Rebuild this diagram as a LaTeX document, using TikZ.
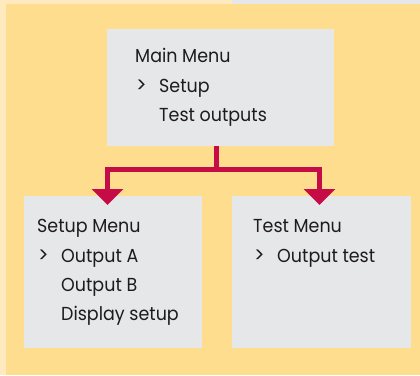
\documentclass[tikz,border=0pt]{standalone}
\usepackage{fontspec}
\setmainfont{Poppins}[FakeStretch=0.93]
\usetikzlibrary{arrows.meta}
\definecolor{bgpale}{HTML}{FFEAC0}
\definecolor{bgmain}{HTML}{FEDD8F}
\definecolor{bggray}{HTML}{E6E7E9}
\definecolor{boxgray}{HTML}{E6E7E9}
\definecolor{crim}{HTML}{C60C46}
\definecolor{ink}{HTML}{1E1B1C}
\tikzset{
  menubox/.style={fill=boxgray, draw=none, inner sep=0pt},
  txt/.style={anchor=base west, inner sep=0pt, text=ink, font=\fontsize{18.8}{21}\selectfont},
  conn/.style={draw=crim, line width=5pt, line join=miter},
}
\begin{document}
\begin{tikzpicture}[x=1pt,y=-1pt]
\useasboundingbox (0,0) rectangle (420,375);
\fill[bgpale] (0,0) rectangle (420,375);
\fill[bggray] (232,0) rectangle (420,4);
\fill[bgmain] (6,4) rectangle (420,375);
% boxes
\node[menubox, minimum width=227pt, minimum height=117pt] (main) at (220.5,87.5) {};
\node[menubox, minimum width=178pt, minimum height=152pt] (setup) at (113,272) {};
\node[menubox, minimum width=179pt, minimum height=152pt] (test) at (321.5,272) {};
% texts
\node[txt] (m1) at (135,62) {Main Menu};
\node[txt] (m2a) at (136,92) {\fontsize{21}{21}\selectfont >};
\node[txt] (m2) at (159,92) {Setup};
\node[txt] (m3) at (159,121) {Test outputs};
\node[txt] (s1) at (37,232) {Setup Menu};
\node[txt] (s2a) at (38,262) {\fontsize{21}{21}\selectfont >};
\node[txt] (s2) at (61,262) {Output A};
\node[txt] (s3) at (61,291) {Output B};
\node[txt] (s4) at (61,320) {Display setup};
\node[txt] (t1) at (253,232) {Test Menu};
\node[txt] (t2a) at (254,262) {\fontsize{21}{21}\selectfont >};
\node[txt] (t2) at (277,262) {Output test};
% connectors
\coordinate (split) at (216,169);
\coordinate (tipL) at (107.5,205);
\coordinate (tipR) at (319.5,205);
\draw[conn] (split |- main.south) -- (split);
\draw[conn, {Triangle[width=31pt,length=16pt]}-{Triangle[width=31pt,length=16pt]}] (tipL) |- (split) -| (tipR);
\end{tikzpicture}
\end{document}
